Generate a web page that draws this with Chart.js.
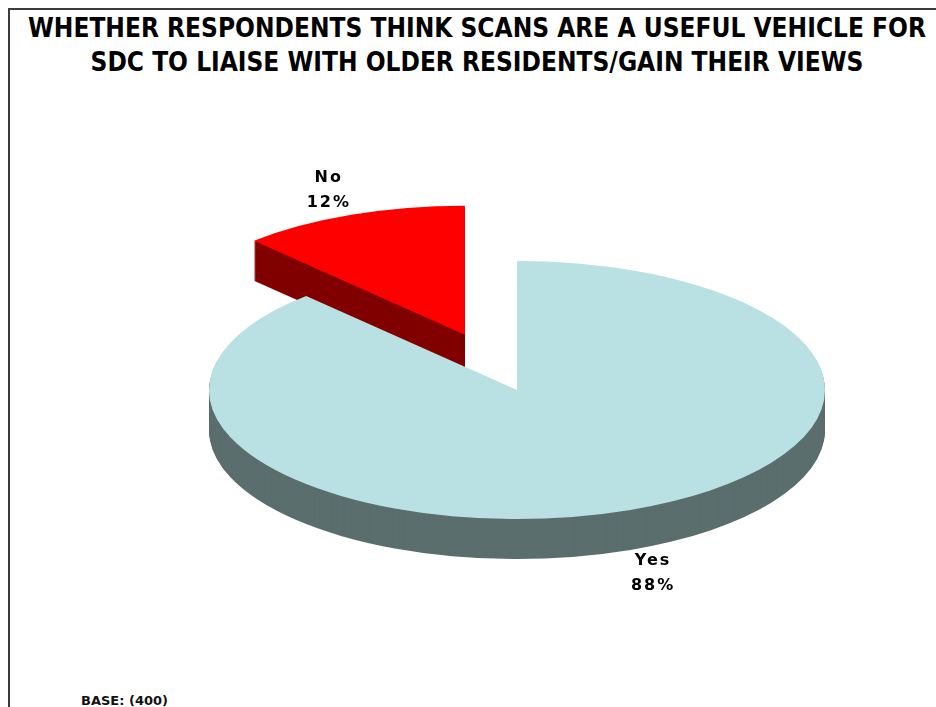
<!DOCTYPE html>
<html>
<head>
<meta charset="utf-8">
<title>SCANS survey</title>
<script src="https://cdn.jsdelivr.net/npm/chart.js@4.4.0/dist/chart.umd.min.js"></script>
<style>
  html, body { margin: 0; padding: 0; background: #fff; }
  body { width: 936px; height: 707px; position: relative; overflow: hidden; }
  #frame {
    position: absolute; left: 8px; top: 8px; width: 1000px; height: 800px;
    border-left: 2px solid #3c3c3c; border-top: 2px solid #3c3c3c;
  }
  #title {
    position: absolute; left: 18px; width: 918px; top: 11px;
    text-align: center; color: #000;
    font: bold 26px/34px "DejaVu Sans Condensed", "Liberation Sans Narrow", "DejaVu Sans", sans-serif;
    font-stretch: condensed;
  }
  #base {
    position: absolute; left: 81px; top: 693px; color: #111;
    font: bold 13px "DejaVu Sans", sans-serif;
  }
  #pie { position: absolute; left: 0; top: 0; }
</style>
</head>
<body>
<div id="frame"></div>
<div id="title"></div>
<div id="base"></div>
<canvas id="pie" width="936" height="707"></canvas>
<script>
// survey answers
const categories = ["Yes", "No"];
const percentages = [88, 12];
const titleLines = [
  "WHETHER RESPONDENTS THINK SCANS ARE A USEFUL VEHICLE FOR",
  "SDC TO LIAISE WITH OLDER RESIDENTS/GAIN THEIR VIEWS"
];
const baseNote = "BASE: (400)";

// look of the tilted pie
const faceColors = ["#b9e0e3", "#ff0000"];
const sideColors = ["#5b6e6e", "#800000"];
const explodeBy = [0, 0.46];   // fraction of the radius
const tilt = 0.419;            // vertical squash of the top face
const depth = 40;              // thickness of the pie, px
const labelReach = 1.2;

document.getElementById("title").innerHTML = titleLines.join("<br>");
document.getElementById("base").textContent = baseNote;

function pieCenter(chart) {
  const { left, right, top, bottom } = chart.chartArea;
  return { cx: (left + right) / 2, cy: (top + bottom) / 2 };
}

// squashes the pie, pulls slices out and paints the sides under the faces
const pie3d = {
  id: "pie3d",
  afterDatasetUpdate(chart, args) {
    args.meta.data.forEach((arc, i) => {
      const f = explodeBy[i] || 0;
      if (!f) return;
      const mid = (arc.startAngle + arc.endAngle) / 2;
      arc.x += Math.cos(mid) * arc.outerRadius * f;
      arc.y += Math.sin(mid) * arc.outerRadius * f;
    });
  },
  beforeDatasetDraw(chart, args) {
    const ctx = chart.ctx;
    const { cx, cy } = pieCenter(chart);
    ctx.save();
    ctx.translate(cx, cy);
    ctx.scale(1, tilt);
    ctx.translate(-cx, -cy);

    const arcs = args.meta.data;
    for (let d = depth; d > 0; d--) {
      ctx.save();
      ctx.translate(0, d / tilt);
      arcs.forEach((arc, i) => {
        const opts = arc.options;
        arc.options = Object.assign({}, opts, {
          backgroundColor: sideColors[i],
          borderWidth: 0
        });
        arc.draw(ctx);
        arc.options = opts;
      });
      ctx.restore();
    }
  },
  afterDatasetDraw(chart) {
    chart.ctx.restore();
  },
  afterDraw(chart) {
    const ctx = chart.ctx;
    const { cy } = pieCenter(chart);
    const meta = chart.getDatasetMeta(0);
    ctx.save();
    ctx.font = 'bold 16px "DejaVu Sans", sans-serif';
    ctx.letterSpacing = "2px";
    ctx.textAlign = "center";
    ctx.textBaseline = "middle";
    ctx.fillStyle = "#000";
    meta.data.forEach((arc, i) => {
      const mid = (arc.startAngle + arc.endAngle) / 2;
      const r = arc.outerRadius * labelReach;
      const x = arc.x + Math.cos(mid) * r;
      let y = cy + (arc.y - cy + Math.sin(mid) * r) * tilt;
      if (Math.sin(mid) > 0) y += depth;
      ctx.fillText(categories[i], x, y - 13);
      ctx.fillText(percentages[i] + "%", x, y + 12);
    });
    ctx.restore();
  }
};

new Chart(document.getElementById("pie"), {
  type: "pie",
  data: {
    labels: categories,
    datasets: [{
      data: percentages,
      backgroundColor: faceColors,
      borderWidth: 0,
      radius: 308,
      clip: false
    }]
  },
  options: {
    responsive: false,
    animation: false,
    events: [],
    layout: { padding: { left: 98, top: 73, right: 0, bottom: 0 } },
    plugins: {
      legend: { display: false },
      tooltip: { enabled: false }
    }
  },
  plugins: [pie3d]
});
</script>
</body>
</html>
